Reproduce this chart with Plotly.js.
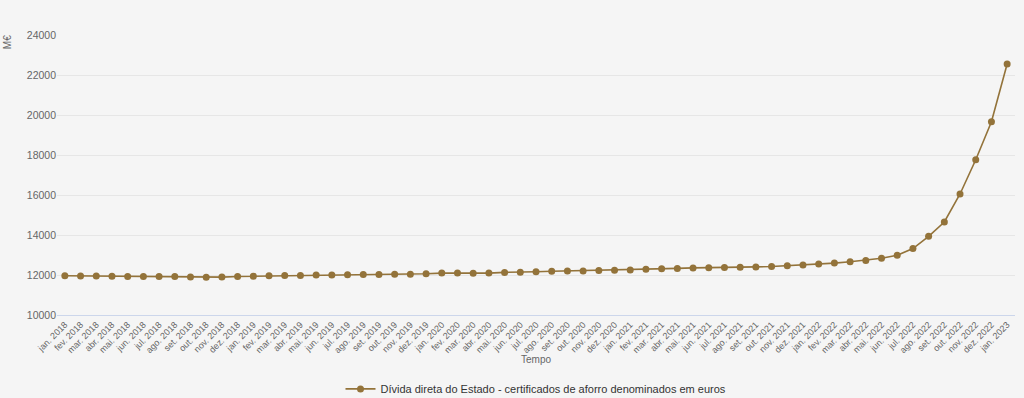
<!DOCTYPE html>
<html>
<head>
<meta charset="utf-8">
<script src="https://cdn.plot.ly/plotly-3.0.1.min.js"></script>
<style>
html,body{margin:0;padding:0;background:#f5f5f5;}
#chart{width:1024px;height:398px;}
</style>
</head>
<body>
<div id="chart"></div>
<script>
const months = ["jan.","fev.","mar.","abr.","mai.","jun.","jul.","ago.","set.","out.","nov.","dez."];
const years = [2018, 2019, 2020, 2021, 2022, 2023];
const categories = [];
for (const y of years) {
  for (const m of months) {
    if (y === 2023 && m !== "jan.") break;
    categories.push(m + " " + y);
  }
}
const seriesName = "Dívida direta do Estado - certificados de aforro denominados em euros";
const values = [
  11960, 11955, 11950, 11935, 11930, 11930, 11925, 11920, 11900, 11885, 11895, 11925,
  11935, 11965, 11970, 11975, 11995, 12000, 12015, 12030, 12030, 12035, 12040, 12065,
  12095, 12095, 12090, 12095, 12130, 12135, 12165, 12185, 12200, 12205, 12220, 12240,
  12255, 12285, 12310, 12330, 12355, 12360, 12370, 12390, 12405, 12425, 12460, 12500,
  12550, 12595, 12660, 12730, 12835, 12985, 13320, 13935, 14650, 16050, 17760, 19665,
  22550
];
const yTicks = [10000, 12000, 14000, 16000, 18000, 20000, 22000, 24000];

const color = "#93733a";
const trace = {
  x: categories, y: values, name: seriesName, type: "scatter", mode: "lines+markers",
  line: {color: color, width: 1.6},
  marker: {color: color, size: 7},
  showlegend: true
};
const layout = {
  width: 1024, height: 398,
  paper_bgcolor: "#f5f5f5", plot_bgcolor: "#f5f5f5",
  margin: {l: 57, r: 9, t: 35, b: 83, autoexpand: false},
  font: {family: "Liberation Sans, Arial, sans-serif", color: "#666666"},
  xaxis: {
    type: "category", range: [-0.5, categories.length - 0.5],
    tickangle: -45, tickfont: {size: 9, color: "#666666"},
    showgrid: false, showline: true, linecolor: "#ccd6eb", linewidth: 1,
    ticks: "", zeroline: false, automargin: false
  },
  yaxis: {
    range: [10000, 24000], tickvals: yTicks, ticktext: yTicks.map(String),
    tickfont: {size: 10.5, color: "#666666"},
    gridcolor: "#e6e6e6", gridwidth: 1, zeroline: false, showline: false,
    ticks: "", automargin: false
  },
  annotations: [
    {text: "M€", xref: "paper", yref: "paper", x: -0.052, y: 0.975, xanchor: "center", yanchor: "middle",
     textangle: -90, showarrow: false, font: {size: 10, color: "#666666"}},
    {text: "Tempo", xref: "paper", yref: "paper", x: 0.5, y: -0.16, xanchor: "center", yanchor: "middle",
     showarrow: false, font: {size: 10, color: "#666666"}}
  ],
  legend: {orientation: "h", x: 0.5, xanchor: "center", y: -0.264, yanchor: "middle",
           font: {size: 11, color: "#333333"}, bgcolor: "rgba(0,0,0,0)"},
  showlegend: true
};
Plotly.newPlot("chart", [trace], layout, {displayModeBar: false, staticPlot: true});
</script>
</body>
</html>
